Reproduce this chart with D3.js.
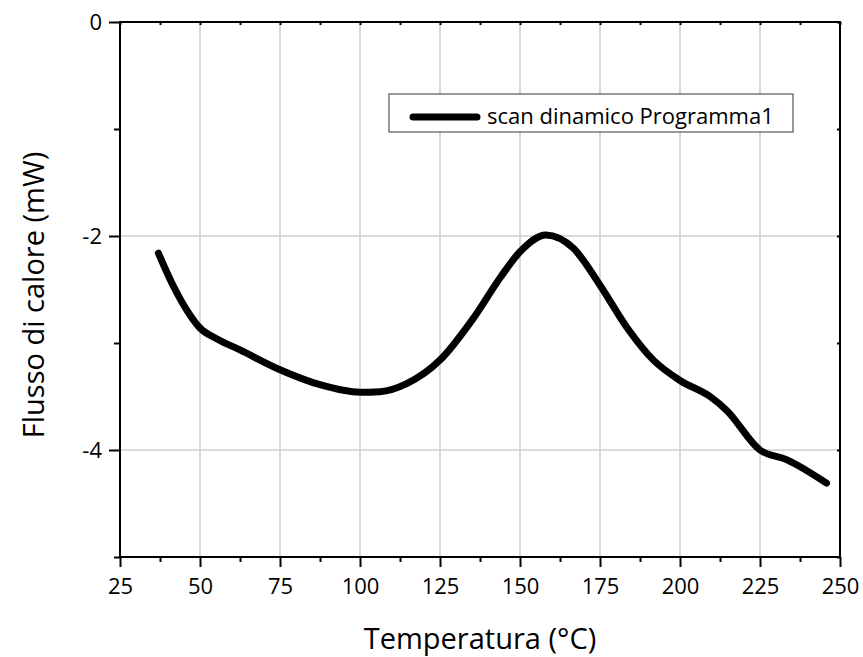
<!DOCTYPE html>
<html>
<head>
<meta charset="utf-8">
<script src="https://cdn.jsdelivr.net/npm/d3@7"></script>
<style>
  body { margin: 0; background: #fff; }
  text { font-family: "Open Sans", sans-serif; fill: #000; }
</style>
</head>
<body>
<div id="wrapper"></div>
<script>
// temperature (°C) and heat flow (mW)
const temps = [37, 41.7, 46.9, 50, 55.2, 62.5, 75, 87.5, 100, 106.3, 114.6, 125, 135.4, 143.8, 150, 158.1, 166.7, 175, 183.3, 191.7, 200, 209.4, 214.6, 225, 233.3, 245.8]
const flux = [-2.16, -2.47, -2.74, -2.86, -2.96, -3.065, -3.25, -3.39, -3.46, -3.455, -3.38, -3.16, -2.77, -2.39, -2.147, -1.99, -2.115, -2.46, -2.85, -3.16, -3.35, -3.50, -3.63, -4.0, -4.09, -4.31]
const xTicks = [25, 50, 75, 100, 125, 150, 175, 200, 225, 250]
const yTicks = [0, -2, -4]
const seriesName = 'scan dinamico Programma1'
const xTitle = 'Temperatura (°C)'
const yTitle = 'Flusso di calore (mW)'

const data = temps.map((t, i) => ({ t: t, f: flux[i] }))

const dimensions = {
    width: 863,
    height: 657,
    margin: { top: 22, right: 23, bottom: 100, left: 120 }
}
dimensions.boundedWidth = dimensions.width - dimensions.margin.left - dimensions.margin.right
dimensions.boundedHeight = dimensions.height - dimensions.margin.top - dimensions.margin.bottom

const svg = d3.select('#wrapper').append('svg')
    .attr('width', dimensions.width)
    .attr('height', dimensions.height)

const bounds = svg.append('g')
    .attr('transform', `translate(${dimensions.margin.left},${dimensions.margin.top})`)

const xScale = d3.scaleLinear().domain([25, 250]).range([0, dimensions.boundedWidth])
const yScale = d3.scaleLinear().domain([-5, 0]).range([dimensions.boundedHeight, 0])

// grid
bounds.append('g').selectAll('line')
    .data(xTicks.slice(1, -1))
    .join('line')
    .attr('x1', d => xScale(d)).attr('x2', d => xScale(d))
    .attr('y1', 0).attr('y2', dimensions.boundedHeight)
    .attr('stroke', '#cfcfcf').attr('stroke-width', 1.6)
bounds.append('g').selectAll('line')
    .data([-2, -4])
    .join('line')
    .attr('x1', 0).attr('x2', dimensions.boundedWidth)
    .attr('y1', d => yScale(d)).attr('y2', d => yScale(d))
    .attr('stroke', '#cfcfcf').attr('stroke-width', 1.6)

// minor ticks
const xMinor = xTicks.slice(0, -1).map(d => d + 12.5)
const yMinor = [-1, -3, -5]

// bottom axis
const xAxis = d3.axisBottom(xScale).tickValues(xTicks).tickSize(10).tickPadding(11)
const xg = bounds.append('g')
    .attr('transform', `translate(0,${dimensions.boundedHeight})`)
    .call(xAxis)
xg.select('.domain').remove()
xg.selectAll('line').attr('stroke', '#000').attr('stroke-width', 2)
xg.selectAll('text').attr('font-size', 22).attr('font-family', '"Open Sans", sans-serif')
bounds.append('g')
    .attr('transform', `translate(0,${dimensions.boundedHeight})`)
    .call(d3.axisBottom(xScale).tickValues(xMinor).tickSize(5).tickFormat(''))
    .call(g => g.select('.domain').remove())
    .selectAll('line').attr('stroke', '#000').attr('stroke-width', 2)

// left axis
const yAxis = d3.axisLeft(yScale).tickValues(yTicks).tickSize(11).tickPadding(7)
    .tickFormat(d => String(d))
const yg = bounds.append('g').call(yAxis)
yg.select('.domain').remove()
yg.selectAll('line').attr('stroke', '#000').attr('stroke-width', 2)
yg.selectAll('text').attr('font-size', 22).attr('font-family', '"Open Sans", sans-serif')
bounds.append('g')
    .call(d3.axisLeft(yScale).tickValues(yMinor).tickSize(6).tickFormat(''))
    .call(g => g.select('.domain').remove())
    .selectAll('line').attr('stroke', '#000').attr('stroke-width', 2)

// top and right axes, short inward ticks
bounds.append('g')
    .call(d3.axisBottom(xScale).tickValues(xTicks.concat(xMinor)).tickSize(3).tickFormat(''))
    .call(g => g.select('.domain').remove())
    .selectAll('line').attr('stroke', '#000').attr('stroke-width', 2)
bounds.append('g')
    .attr('transform', `translate(${dimensions.boundedWidth},0)`)
    .call(d3.axisLeft(yScale).tickValues(yTicks.concat(yMinor)).tickSize(3).tickFormat(''))
    .call(g => g.select('.domain').remove())
    .selectAll('line').attr('stroke', '#000').attr('stroke-width', 2)

// frame
bounds.append('rect')
    .attr('width', dimensions.boundedWidth)
    .attr('height', dimensions.boundedHeight)
    .attr('fill', 'none')
    .attr('stroke', '#000')
    .attr('stroke-width', 2)

// curve
const line = d3.line()
    .x(d => xScale(d.t))
    .y(d => yScale(d.f))
    .curve(d3.curveMonotoneX)
bounds.append('path')
    .datum(data)
    .attr('d', line)
    .attr('fill', 'none')
    .attr('stroke', '#000')
    .attr('stroke-width', 7)
    .attr('stroke-linecap', 'round')
    .attr('stroke-linejoin', 'round')

// legend
const legend = svg.append('g').attr('transform', 'translate(389,94)')
legend.append('rect')
    .attr('width', 404).attr('height', 38)
    .attr('fill', '#fff')
    .attr('stroke', '#555').attr('stroke-width', 1.2)
legend.append('line')
    .attr('x1', 24).attr('x2', 88).attr('y1', 23).attr('y2', 23)
    .attr('stroke', '#000').attr('stroke-width', 7).attr('stroke-linecap', 'round')
legend.append('text')
    .attr('x', 98).attr('y', 30)
    .attr('font-size', 22)
    .text(seriesName)

// axis titles
svg.append('text')
    .attr('x', dimensions.margin.left + dimensions.boundedWidth / 2)
    .attr('y', 649)
    .attr('text-anchor', 'middle')
    .attr('font-size', 29)
    .text(xTitle)
svg.append('text')
    .attr('transform', 'translate(44,295) rotate(-90)')
    .attr('text-anchor', 'middle')
    .attr('font-size', 29)
    .text(yTitle)
</script>
</body>
</html>
